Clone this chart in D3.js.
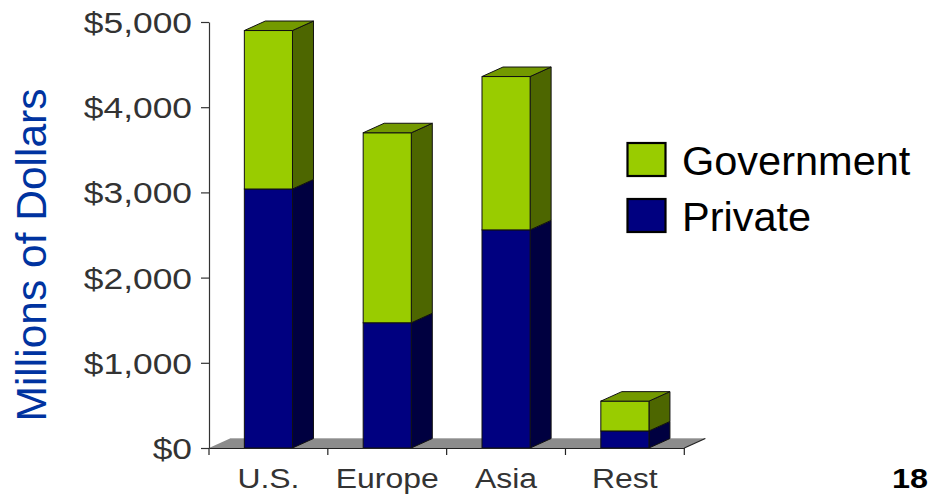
<!DOCTYPE html>
<html>
<head>
<meta charset="utf-8">
<script src="https://cdn.jsdelivr.net/npm/d3@7"></script>
<style>
  html, body { margin: 0; padding: 0; background: #ffffff; }
  svg { display: block; font-family: "Liberation Sans", Arial, sans-serif; }
</style>
</head>
<body>
<svg id="chart" width="936" height="494"></svg>
<script>
// ---- data ----
const categories = ["U.S.", "Europe", "Asia", "Rest"];
const privateValues = [3040, 1470, 2560, 200];
const governmentValues = [1860, 2230, 1800, 350];
const yTicks = [0, 1000, 2000, 3000, 4000, 5000];
const seriesNames = ["Government", "Private"];
const yTitle = "Millions of Dollars";
const pageNumber = "18";

// ---- layout ----
const svg = d3.select("#chart");
const x0 = 209, x1 = 684.3, yBottom = 448, yTop = 22;
const depthX = 21, depthY = -9.5;

const x = d3.scaleBand().domain(categories).range([x0, x1]).padding(0);
const y = d3.scaleLinear().domain([0, 5000]).range([yBottom, yTop]);
const barW = x.bandwidth() * 0.405;

const colors = {
  Private: { front: "#000080", side: "#000040", top: "#000060" },
  Government: { front: "#99cc00", side: "#4d6600", top: "#739900" }
};

// floor
svg.append("polygon")
  .attr("points", [[x0, yBottom], [x1, yBottom], [x1 + depthX, yBottom + depthY], [x0 + depthX, yBottom + depthY]].map(p => p.join(",")).join(" "))
  .attr("fill", "#8c8c8c");
svg.append("line")
  .attr("x1", x0 + depthX).attr("x2", x1 + depthX)
  .attr("y1", yBottom + depthY).attr("y2", yBottom + depthY)
  .attr("stroke", "#b0b0b0").attr("stroke-width", 1);
svg.append("line")
  .attr("x1", x1).attr("y1", yBottom)
  .attr("x2", x1 + depthX).attr("y2", yBottom + depthY)
  .attr("stroke", "#222").attr("stroke-width", 1.2);

// bars
const stacked = categories.map((c, i) => ({
  cat: c,
  segs: [
    { name: "Private", lo: 0, hi: privateValues[i] },
    { name: "Government", lo: privateValues[i], hi: privateValues[i] + governmentValues[i] }
  ]
}));

const gBars = svg.append("g");
stacked.forEach(d => {
  const bx0 = x(d.cat) + (x.bandwidth() - barW) / 2;
  const bx1 = bx0 + barW;
  const g = gBars.append("g");
  d.segs.forEach((s, si) => {
    const yt = y(s.hi), yb = y(s.lo);
    const col = colors[s.name];
    g.append("polygon")
      .attr("points", [[bx1, yb], [bx1 + depthX, yb + depthY], [bx1 + depthX, yt + depthY], [bx1, yt]].map(p => p.join(",")).join(" "))
      .attr("fill", col.side).attr("stroke", "#111").attr("stroke-width", 1).attr("stroke-linejoin", "round");
    g.append("rect")
      .attr("x", bx0).attr("y", yt).attr("width", barW).attr("height", yb - yt)
      .attr("fill", col.front).attr("stroke", "#111").attr("stroke-width", 1);
    if (si === d.segs.length - 1) {
      g.append("polygon")
        .attr("points", [[bx0, yt], [bx0 + depthX, yt + depthY], [bx1 + depthX, yt + depthY], [bx1, yt]].map(p => p.join(",")).join(" "))
        .attr("fill", col.top).attr("stroke", "#111").attr("stroke-width", 1).attr("stroke-linejoin", "round");
    }
  });
});

// y axis
const yAxis = d3.axisLeft(y).tickValues(yTicks).tickSizeInner(8).tickSizeOuter(0).tickPadding(11)
  .tickFormat(d => "$" + d3.format(",")(d));
const gy = svg.append("g").attr("transform", `translate(${x0},0)`).call(yAxis);
gy.select(".domain").attr("stroke", "#333").attr("stroke-width", 1.2);
gy.selectAll(".tick line").attr("stroke", "#333").attr("stroke-width", 1.2);
gy.selectAll(".tick text")
  .attr("font-family", "'Liberation Sans', Arial, sans-serif")
  .attr("font-size", 30).attr("fill", "#333")
  .attr("x", 0).attr("dy", "0.35em")
  .attr("transform", "translate(-17,0) scale(1.18,1)");

// x axis
const xAxis = d3.axisBottom(x).tickSize(0).tickPadding(0);
const gx = svg.append("g").attr("transform", `translate(0,${yBottom})`).call(xAxis);
gx.select(".domain").attr("stroke", "#222").attr("stroke-width", 1.2);
gx.selectAll(".tick text")
  .attr("font-family", "'Liberation Sans', Arial, sans-serif")
  .attr("font-size", 28).attr("fill", "#333")
  .attr("y", 0).attr("dy", 0)
  .attr("transform", "translate(0,40) scale(1.14,1)");
const bounds = categories.map(c => x(c)).concat([x1]);
gx.selectAll(".bound").data(bounds).enter().append("line")
  .attr("class", "bound")
  .attr("x1", d => d).attr("x2", d => d)
  .attr("y1", 0).attr("y2", 7)
  .attr("stroke", "#222").attr("stroke-width", 1.2);

// y title
svg.append("text")
  .attr("transform", "translate(46,255) rotate(-90)")
  .attr("text-anchor", "middle")
  .attr("font-size", 42.5)
  .attr("fill", "#0033a0")
  .text(yTitle);

// legend
const legend = svg.append("g");
seriesNames.forEach((n, i) => {
  const ly = 143 + i * 56;
  legend.append("rect")
    .attr("x", 627.5).attr("y", ly).attr("width", 38).attr("height", 33)
    .attr("fill", colors[n].front).attr("stroke", "#000").attr("stroke-width", 2.2);
  legend.append("text")
    .attr("x", 682).attr("y", ly + 32)
    .attr("font-size", 41.5).attr("fill", "#000")
    .text(n);
});

// page number
svg.append("text")
  .attr("x", 892).attr("y", 488)
  .attr("font-size", 28).attr("font-weight", "bold").attr("fill", "#000")
  .attr("textLength", 36).attr("lengthAdjust", "spacingAndGlyphs")
  .text(pageNumber);
</script>
</body>
</html>
